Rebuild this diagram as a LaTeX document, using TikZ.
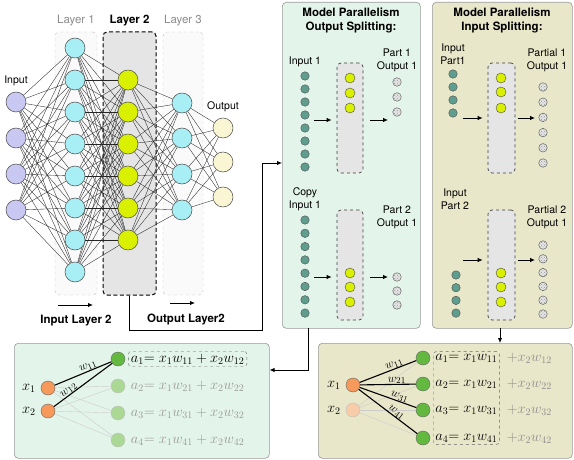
\documentclass[tikz,border=0pt]{standalone}
\usepackage[no-math]{fontspec}
\setmainfont{TeX Gyre Heros}
\usetikzlibrary{positioning,arrows.meta,fit,patterns}

\definecolor{inpurple}{HTML}{C8C8F2}
\definecolor{hidcyan}{HTML}{A8EEF5}
\definecolor{midlime}{HTML}{D9F000}
\definecolor{outcream}{HTML}{FAF6D3}
\definecolor{mintbg}{HTML}{E3F4EA}
\definecolor{tanbg}{HTML}{E9E7C9}
\definecolor{tealdot}{HTML}{5F9E8E}
\definecolor{darkgreen}{HTML}{63B840}
\definecolor{palegreen}{HTML}{ABD995}
\definecolor{orangex}{HTML}{F6995A}
\definecolor{paleorange}{HTML}{F8CCA8}

\pgfdeclarelayer{boxes}
\pgfdeclarelayer{wires}
\pgfsetlayers{boxes,wires,main}

\tikzset{
  neuron/.style={circle,draw=black!70,line width=0.5pt,minimum size=20pt,inner sep=0pt},
  smalldot/.style={circle,draw=black!70,line width=0.4pt,minimum size=8.5pt,inner sep=0pt},
  hatchdot/.style={smalldot,fill=black!10,postaction={pattern=crosshatch dots,pattern color=black!40}},
  limedot/.style={smalldot,fill=midlime,minimum size=10pt},
  layerbox/.style={rectangle,dashed,draw=black!25,fill=black!2,rounded corners=4pt,minimum height=263pt},
  splitbox/.style={rectangle,dashed,draw=black!75,line width=0.7pt,fill=black!10,rounded corners=4pt,minimum width=26pt,minimum height=110pt},
  panel/.style={rectangle,draw=black!40,line width=0.6pt,rounded corners=4pt,anchor=north west},
  wire/.style={draw=black!85,line width=0.35pt},
  faint/.style={draw=black!20,line width=0.4pt},
  strong/.style={draw=black,line width=1.1pt},
  arr/.style={-{Latex[length=5pt,width=4.5pt]},line width=0.9pt},
  ttl/.style={font=\fontsize{11.5}{14}\selectfont\bfseries,align=center},
  lbl/.style={align=center,font=\fontsize{10.5}{13}\selectfont},
  eqn/.style={font=\fontsize{14.5}{17}\selectfont,inner sep=2pt},
  wlbl/.style={font=\fontsize{12.5}{14}\selectfont,inner sep=0pt,sloped,above},
  bnode/.style={circle,draw=black!60,line width=0.4pt,minimum size=14pt,inner sep=0pt}
}

\begin{document}
\begin{tikzpicture}[x=1pt,y=-1pt]
\useasboundingbox (0,0) rectangle (574,460);

\begin{pgfonlayer}{boxes}
\node[layerbox,minimum width=42pt] (lay1) at (76,163.5) {};
\node[layerbox,minimum width=53pt,draw=black,fill=black!10,line width=1pt,dash pattern=on 4pt off 2.5pt] (lay2) at (129.5,163.5) {};
\node[layerbox,minimum width=40pt] (lay3) at (183,163.5) {};
\node[panel,fill=mintbg,minimum width=138pt,minimum height=326pt] (osplit) at (282,2) {};
\node[panel,fill=tanbg,minimum width=140pt,minimum height=326pt] (isplit) at (432,2) {};
\node[panel,fill=mintbg,minimum width=255pt,minimum height=115pt] (opart) at (14,343) {};
\node[panel,fill=tanbg,minimum width=254pt,minimum height=115pt] (ipart) at (318,343) {};
\end{pgfonlayer}

\foreach \i/\y in {1/102,2/138,3/174,4/210}
  \node[neuron,fill=inpurple] (in\i) at (16,\y) {};
\foreach \i in {1,...,8}
  \node[neuron,fill=hidcyan] (ha\i) at (75,{48+32*(\i-1)}) {};
\foreach \i in {1,...,6}
  \node[neuron,fill=midlime] (hb\i) at (128,{80+32*(\i-1)}) {};
\foreach \i/\y in {1/103,2/138,3/174,4/210}
  \node[neuron,fill=hidcyan] (hc\i) at (182,\y) {};
\foreach \i/\y in {1/128,2/162,3/197}
  \node[neuron,fill=outcream] (out\i) at (223,\y) {};

\begin{pgfonlayer}{wires}
\foreach \a in {1,...,4}
  \foreach \b in {1,...,8}
    \draw[wire] (in\a) -- (ha\b);
\foreach \a in {1,...,8}
  \foreach \b in {1,...,6}
    \draw[wire] (ha\a) -- (hb\b);
\foreach \a in {1,...,6}
  \foreach \b in {1,...,4}
    \draw[wire] (hb\a) -- (hc\b);
\foreach \a in {1,...,4}
  \foreach \b in {1,...,3}
    \draw[wire] (hc\a) -- (out\b);
\end{pgfonlayer}

\node[font=\fontsize{11.5}{14}\selectfont,text=black!45,above=2pt of lay1] (lab1) {Layer 1};
\node[font=\fontsize{11.5}{14}\selectfont\bfseries,above=2pt of lay2] (lab2) {Layer 2};
\node[font=\fontsize{11.5}{14}\selectfont,text=black!45,above=2pt of lay3] (lab3) {Layer 3};
\node[lbl,above=2pt of in1] (inlab) {Input};
\node[lbl,above=2pt of out1] (outlab) {Output};

\coordinate (arrin) at (58,305);
\draw[arr] (arrin) -- ++(35,0);
\node[ttl] (inl2) at (76,321) {Input Layer 2};
\coordinate (arrout) at (170,303);
\draw[arr] (arrout) -- ++(25,0);
\node[ttl] (outl2) at (186,319) {Output Layer2};

\coordinate (bend) at (262,330);
\coordinate (hook) at (262,163);
\draw[arr] (lay2.south) |- (bend) -- (hook) -- (hook -| osplit.west);
\coordinate (osfoot) at (308,328);
\coordinate (osturn) at (308,370);
\draw[arr] (osfoot) |- (opart.east |- osturn);
\coordinate (isfoot) at (500,328);
\draw[arr] (isfoot) -- (isfoot |- ipart.north);

\node[ttl] (ostitle) at (351,20) {Model Parallelism\\Output Splitting:};
\foreach \i in {1,...,8}
  \node[smalldot,fill=tealdot] (oa\i) at (305,{76+13*(\i-1)}) {};
\node[lbl,above=1pt of oa1] (oalab) {Input 1};
\node[splitbox] (obox1) at (350,118) {};
\foreach \i/\y in {1/78,2/93,3/108}
  \node[limedot] (ob\i) at (350,\y) {};
\foreach \i/\y in {1/82,2/97,3/112}
  \node[hatchdot] (oc\i) at (397,\y) {};
\node[lbl] (oclab) at (397,60) {Part 1\\Output 1};
\coordinate (oarr1) at (0,120);
\draw[arr,shorten <=5pt,shorten >=5pt] (oa4.east |- oarr1) -- (obox1.west |- oarr1);
\draw[arr,shorten <=7pt,shorten >=4.5pt] (obox1.east |- oarr1) -- (oc1.west |- oarr1);

\foreach \i in {1,...,8}
  \node[smalldot,fill=tealdot] (od\i) at (305,{220+13.3*(\i-1)}) {};
\node[lbl,above=1pt of od1] (odlab) {Copy\\Input 1};
\node[splitbox] (obox2) at (350,265) {};
\foreach \i/\y in {1/273,2/287,3/302}
  \node[limedot] (oe\i) at (350,\y) {};
\foreach \i/\y in {1/277,2/291,3/305}
  \node[hatchdot] (of\i) at (397,\y) {};
\node[lbl] (oflab) at (397,217) {Part 2\\Output 1};
\coordinate (oarr2) at (0,277);
\draw[arr,shorten <=5pt,shorten >=5pt] (od5.east |- oarr2) -- (obox2.west |- oarr2);
\draw[arr,shorten <=7pt,shorten >=4.5pt] (obox2.east |- oarr2) -- (of1.west |- oarr2);

\node[ttl] (istitle) at (502,20) {Model Parallelism\\Input Splitting:};
\foreach \i in {1,...,4}
  \node[smalldot,fill=tealdot] (ia\i) at (453,{74+13*(\i-1)}) {};
\node[lbl,above=1pt of ia1] (ialab) {Input\\Part1};
\node[splitbox,minimum width=27pt] (ibox1) at (501.5,118) {};
\foreach \i/\y in {1/78,2/92,3/108}
  \node[limedot] (ib\i) at (501,\y) {};
\foreach \i in {1,...,6}
  \node[hatchdot] (ic\i) at (543,{87+15.2*(\i-1)}) {};
\node[lbl] (iclab) at (547,60) {Partial 1\\Output 1};
\coordinate (iarr1) at (0,118);
\draw[arr,shorten <=5.5pt,shorten >=5pt] (ia4.east |- iarr1) -- (ibox1.west |- iarr1);
\draw[arr,shorten <=3pt,shorten >=3.5pt] (ibox1.east |- iarr1) -- (ic1.west |- iarr1);

\foreach \i in {1,...,4}
  \node[smalldot,fill=tealdot] (id\i) at (456,{275+12.7*(\i-1)}) {};
\node[lbl] (idlab) at (455,199) {Input\\Part 2};
\node[splitbox,minimum width=27pt] (ibox2) at (501.5,265) {};
\foreach \i/\y in {1/273,2/287,3/302}
  \node[limedot] (ie\i) at (501,\y) {};
\foreach \i in {1,...,6}
  \node[hatchdot] (if\i) at (543,{245+13.8*(\i-1)}) {};
\node[lbl] (iflab) at (547,217) {Partial 2\\Output 1};
\coordinate (iarr2) at (0,260);
\draw[arr,shorten <=3pt,shorten >=5pt] (id1.east |- iarr2) -- (ibox2.west |- iarr2);
\draw[arr,shorten <=3pt,shorten >=3.5pt] (ibox2.east |- iarr2) -- (if2.west |- iarr2);

\node[bnode,fill=orangex] (x1) at (48,388) {};
\node[bnode,fill=orangex] (x2) at (48,411) {};
\node[eqn,left=3pt of x1] (x1lab) {$x_1$};
\node[eqn,left=3pt of x2] (x2lab) {$x_2$};
\node[bnode,fill=darkgreen] (a1) at (118,359) {};
\foreach \i/\y in {2/386,3/413,4/440}
  \node[bnode,fill=palegreen,draw=black!25] (a\i) at (118,\y) {};
\begin{pgfonlayer}{wires}
\foreach \s in {x1,x2}
  \foreach \t in {a2,a3,a4}
    \draw[faint] (\s) -- (\t);
\end{pgfonlayer}
\draw[strong] (x1) -- node[wlbl,pos=0.62] {$w_{11}$} (a1);
\draw[strong] (x2) -- node[wlbl,pos=0.3] {$w_{12}$} (a1);
\node[eqn,right=3pt of a1,draw=black!60,dashed,rounded corners=3pt,inner sep=2.5pt] (e1) {$a_1{=}\;x_1w_{11}+x_2w_{12}$};
\foreach \i in {2,3,4}
  \node[eqn,right=3.5pt of a\i,text=black!40] (e\i) {$a_\i{=}\;x_1w_{\i1}+x_2w_{\i2}$};

\node[bnode,fill=orangex] (y1) at (353,385) {};
\node[bnode,fill=paleorange,draw=black!25] (y2) at (353,410) {};
\node[eqn,left=3pt of y1] (y1lab) {$x_1$};
\node[eqn,left=3pt of y2] (y2lab) {$x_2$};
\foreach \i/\y in {1/358,2/384,3/410,4/438}
  \node[bnode,fill=darkgreen] (b\i) at (423,\y) {};
\begin{pgfonlayer}{wires}
\foreach \i in {1,...,4}
  \draw[faint] (y2) -- (b\i);
\end{pgfonlayer}
\foreach \i/\p in {1/0.64,2/0.66,3/0.68,4/0.6}
  \draw[strong] (y1) -- node[wlbl,pos=\p] {$w_{\i1}$} (b\i);
\foreach \i in {1,...,4}
  \node[eqn,right=3pt of b\i] (f\i) {$a_\i{=}\;x_1w_{\i1}$};
\node[draw=black!60,dashed,rounded corners=3pt,fit=(f1)(f4),inner sep=0pt] (fbox) {};
\foreach \i in {1,...,4}
  \node[eqn,text=black!45,right=5pt of f\i] (g\i) {$+x_2w_{\i2}$};
\end{tikzpicture}
\end{document}
